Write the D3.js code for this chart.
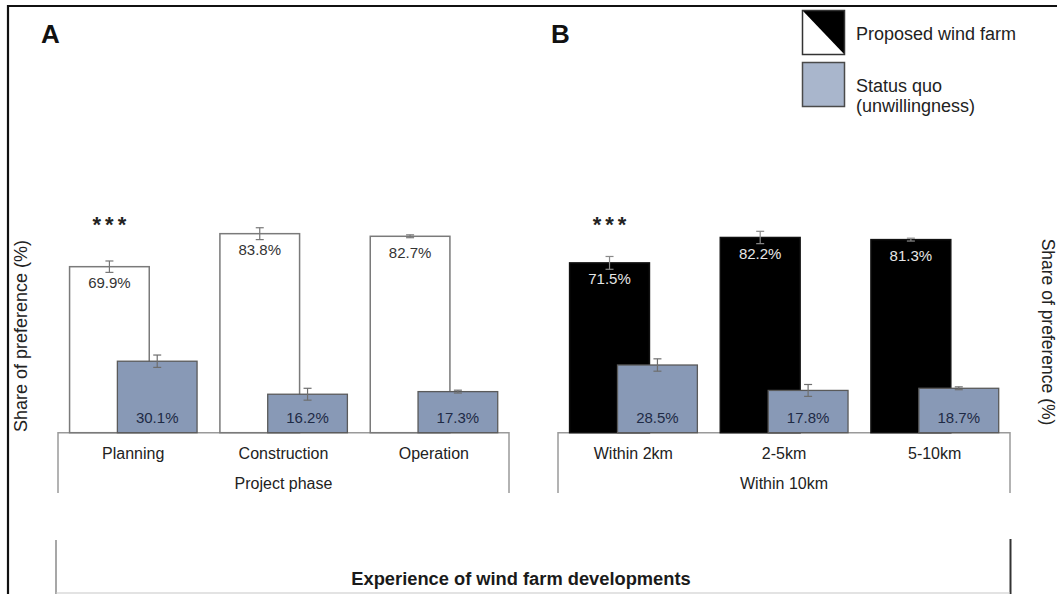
<!DOCTYPE html>
<html>
<head>
<meta charset="utf-8">
<script src="https://cdn.jsdelivr.net/npm/d3@7"></script>
<style>
  html, body { margin: 0; padding: 0; background: #fff; }
  svg { display: block; font-family: "Liberation Sans", Arial, Helvetica, sans-serif; }
</style>
</head>
<body>
<svg id="chart" width="1057" height="594"></svg>
<script>
// Panel A: project phase
const phaseCats = ["Planning", "Construction", "Operation"];
const phaseProposed = [69.9, 83.8, 82.7];
const phaseStatusQuo = [30.1, 16.2, 17.3];
const phaseProposedErr = [2.4, 2.5, 0.6];
const phaseStatusQuoErr = [2.6, 2.5, 0.6];
const phaseSig = ["***", "", ""];

// Panel B: distance to wind farm
const distCats = ["Within 2km", "2-5km", "5-10km"];
const distProposed = [71.5, 82.2, 81.3];
const distStatusQuo = [28.5, 17.8, 18.7];
const distProposedErr = [2.7, 2.6, 0.6];
const distStatusQuoErr = [2.6, 2.5, 0.6];
const distSig = ["***", "", ""];

const legendLabels = ["Proposed wind farm", ["Status quo", "(unwillingness)"]];
const yTitle = "Share of preference (%)";
const groupTitles = ["Project phase", "Within 10km"];
const overallTitle = "Experience of wind farm developments";

const svg = d3.select("#chart");
const baseY = 432.7;
const y = d3.scaleLinear().domain([0, 100]).range([baseY, baseY - 237.5]);

const BLUE = "#8899b6";
const fmt = v => v.toFixed(1) + "%";

function drawPanel(opts) {
  const x = d3.scaleBand().domain(opts.cats).range(opts.range);
  const bw = x.bandwidth();
  const barW = bw * 0.53;
  const offP = bw * 0.077;
  const offS = bw * 0.395;
  const g = svg.append("g");

  const rows = opts.cats.map((c, i) => ({
    cat: c, p: opts.proposed[i], s: opts.status[i],
    pe: opts.pErr[i], se: opts.sErr[i], sig: opts.sig[i]
  }));

  // category box under the bars
  const [x0, x1] = opts.range;
  g.append("path")
    .attr("d", `M${x0},493V${baseY}H${x1}V493`)
    .attr("fill", "none").attr("stroke", "#9a9a9a").attr("stroke-width", 1.5);

  // proposed wind farm bars
  g.selectAll(".pbar").data(rows).join("rect")
    .attr("x", d => x(d.cat) + offP)
    .attr("y", d => y(d.p))
    .attr("width", barW)
    .attr("height", d => baseY - y(d.p))
    .attr("fill", opts.pFill)
    .attr("stroke", opts.pStroke)
    .attr("stroke-width", 1.5);

  // status quo bars
  g.selectAll(".sbar").data(rows).join("rect")
    .attr("x", d => x(d.cat) + offS)
    .attr("y", d => y(d.s))
    .attr("width", barW)
    .attr("height", d => baseY - y(d.s))
    .attr("fill", BLUE)
    .attr("stroke", "#5a5a5a")
    .attr("stroke-width", 1.3);

  // error bars
  const err = [];
  rows.forEach(d => {
    err.push({ cx: x(d.cat) + offP + barW / 2, v: d.p, e: d.pe, c: opts.pErrColor });
    err.push({ cx: x(d.cat) + offS + barW / 2, v: d.s, e: d.se, c: "#6e6e6e" });
  });
  const eg = g.selectAll(".err").data(err).join("g")
    .attr("stroke", d => d.c).attr("stroke-width", 1.2);
  eg.append("line")
    .attr("x1", d => d.cx).attr("x2", d => d.cx)
    .attr("y1", d => y(d.v + d.e)).attr("y2", d => y(d.v - d.e));
  eg.append("line")
    .attr("x1", d => d.cx - 4).attr("x2", d => d.cx + 4)
    .attr("y1", d => y(d.v + d.e)).attr("y2", d => y(d.v + d.e));
  eg.append("line")
    .attr("x1", d => d.cx - 4).attr("x2", d => d.cx + 4)
    .attr("y1", d => y(d.v - d.e)).attr("y2", d => y(d.v - d.e));

  // value labels
  g.selectAll(".plab").data(rows).join("text")
    .attr("x", d => x(d.cat) + offP + barW / 2)
    .attr("y", d => y(d.p) + 21.5)
    .attr("text-anchor", "middle")
    .attr("font-size", 15)
    .attr("fill", opts.pLabel)
    .text(d => fmt(d.p));
  g.selectAll(".slab").data(rows).join("text")
    .attr("x", d => x(d.cat) + offS + barW / 2)
    .attr("y", baseY - 9.5)
    .attr("text-anchor", "middle")
    .attr("font-size", 15)
    .attr("fill", "#1e2a45")
    .text(d => fmt(d.s));

  // significance markers
  g.selectAll(".sig").data(rows.filter(d => d.sig)).join("text")
    .attr("x", d => x(d.cat) + offP + barW / 2 + 2)
    .attr("y", 232)
    .attr("text-anchor", "middle")
    .attr("font-size", 22)
    .attr("font-weight", "bold")
    .attr("letter-spacing", 4)
    .attr("fill", "#222")
    .text(d => d.sig);

  // category labels
  g.selectAll(".cat").data(rows).join("text")
    .attr("x", d => x(d.cat) + bw / 2)
    .attr("y", 459)
    .attr("text-anchor", "middle")
    .attr("font-size", 16)
    .attr("fill", "#222")
    .text(d => d.cat);

  g.append("text")
    .attr("x", (x0 + x1) / 2)
    .attr("y", 489)
    .attr("text-anchor", "middle")
    .attr("font-size", 16)
    .attr("fill", "#222")
    .text(opts.title);

  // panel letter
  g.append("text")
    .attr("x", opts.letterX).attr("y", 43)
    .attr("font-size", 26).attr("font-weight", "bold").attr("fill", "#111")
    .text(opts.letter);
}

drawPanel({
  cats: phaseCats, proposed: phaseProposed, status: phaseStatusQuo,
  pErr: phaseProposedErr, sErr: phaseStatusQuoErr, sig: phaseSig,
  range: [58, 509], pFill: "#ffffff", pStroke: "#7a7a7a",
  pErrColor: "#777", pLabel: "#333", title: groupTitles[0],
  letter: "A", letterX: 41
});

drawPanel({
  cats: distCats, proposed: distProposed, status: distStatusQuo,
  pErr: distProposedErr, sErr: distStatusQuoErr, sig: distSig,
  range: [558, 1010], pFill: "#000000", pStroke: "#111",
  pErrColor: "#8a8a8a", pLabel: "#e6e6e6", title: groupTitles[1],
  letter: "B", letterX: 551
});

// outer frame (top and left edges)
svg.append("path")
  .attr("d", "M8,594V6H1057")
  .attr("fill", "none").attr("stroke", "#111").attr("stroke-width", 2.2);

// overall grouping box at the bottom
svg.append("line").attr("x1", 56).attr("x2", 56).attr("y1", 540).attr("y2", 594)
  .attr("stroke", "#8a8a8a").attr("stroke-width", 1.5);
svg.append("line").attr("x1", 1010.5).attr("x2", 1010.5).attr("y1", 539).attr("y2", 594)
  .attr("stroke", "#333").attr("stroke-width", 2);
svg.append("line").attr("x1", 56).attr("x2", 1010).attr("y1", 593).attr("y2", 593)
  .attr("stroke", "#c8c8c8").attr("stroke-width", 1.2);
svg.append("text")
  .attr("x", 521).attr("y", 585)
  .attr("text-anchor", "middle")
  .attr("font-size", 18.3).attr("font-weight", "bold").attr("fill", "#1a1a1a")
  .text(overallTitle);

// y-axis titles
svg.append("text")
  .attr("transform", "translate(27,336) rotate(-90)")
  .attr("text-anchor", "middle").attr("font-size", 18).attr("fill", "#222")
  .text(yTitle);
svg.append("text")
  .attr("transform", "translate(1042,332) rotate(90)")
  .attr("text-anchor", "middle").attr("font-size", 17.5).attr("fill", "#222")
  .text(yTitle);

// legend
const lg = svg.append("g");
lg.append("rect").attr("x", 802.5).attr("y", 10.5).attr("width", 42).attr("height", 44)
  .attr("fill", "#fff");
lg.append("path").attr("d", "M802.5,10.5H844.5V54.5Z").attr("fill", "#000");
lg.append("rect").attr("x", 802.5).attr("y", 10.5).attr("width", 42).attr("height", 44)
  .attr("fill", "none").attr("stroke", "#333").attr("stroke-width", 1.5);
lg.append("rect").attr("x", 802.5).attr("y", 62.5).attr("width", 42).attr("height", 44)
  .attr("fill", "#a9b6cc").attr("stroke", "#4a4a4a").attr("stroke-width", 1.5);
lg.append("text").attr("x", 856).attr("y", 40).attr("font-size", 18).attr("fill", "#222")
  .text(legendLabels[0]);
lg.append("text").attr("x", 856).attr("y", 92).attr("font-size", 18).attr("fill", "#222")
  .text(legendLabels[1][0]);
lg.append("text").attr("x", 856).attr("y", 112).attr("font-size", 18).attr("fill", "#222")
  .text(legendLabels[1][1]);
</script>
</body>
</html>
